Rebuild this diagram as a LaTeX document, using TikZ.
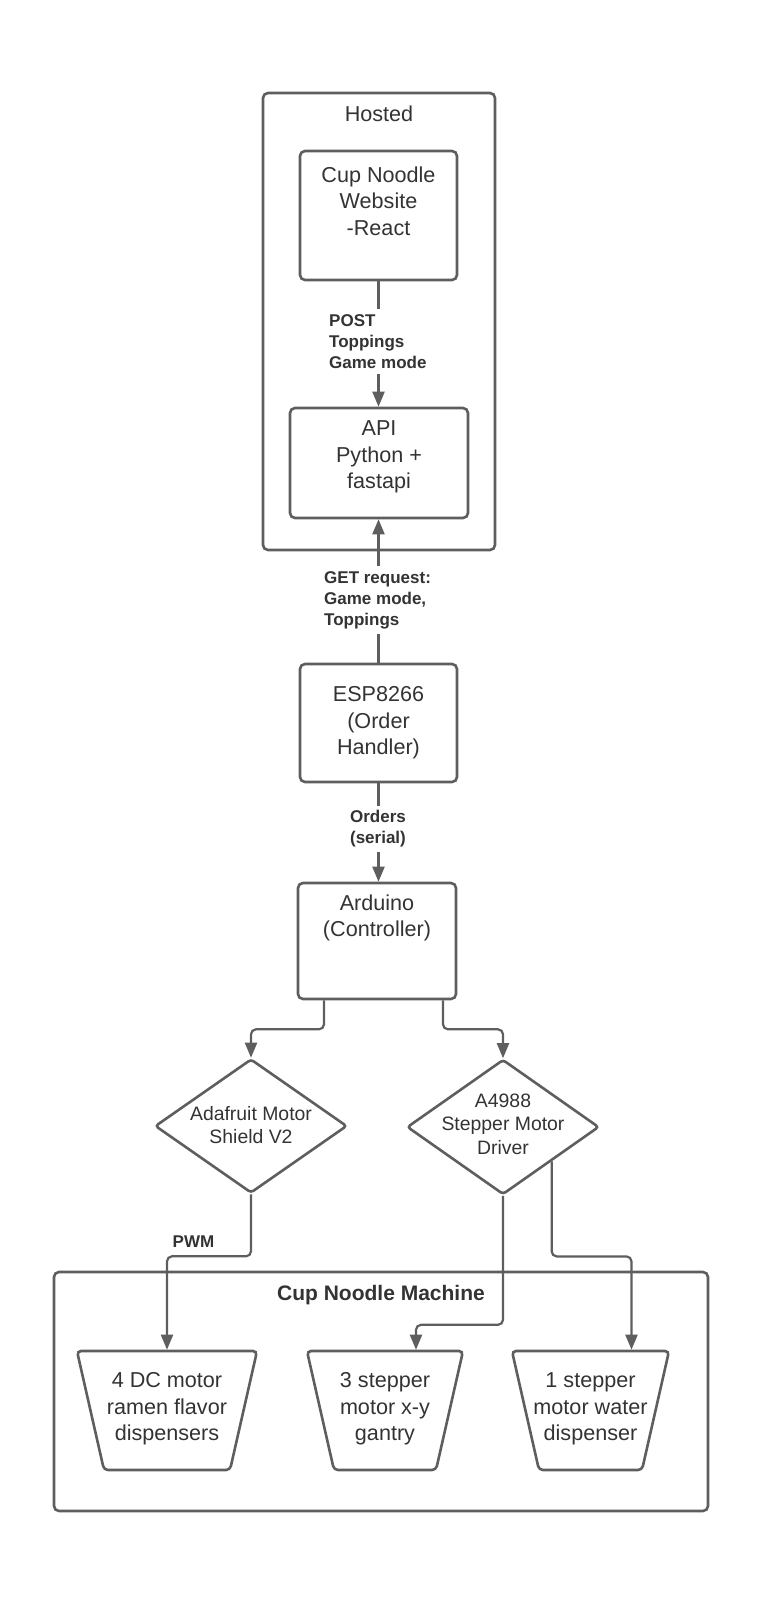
\documentclass[tikz,border=0pt]{standalone}
\usepackage{fontspec}
\setmainfont{Liberation Sans}
\usetikzlibrary{shapes.geometric}
\usetikzlibrary{arrows.meta}
\definecolor{lineclr}{HTML}{5E5E5E}
\definecolor{txtclr}{HTML}{333333}
\tikzset{
  blk/.style={draw=lineclr, line width=2.6pt, rounded corners=5pt, inner sep=0pt},
  dmd/.style={diamond, draw=lineclr, line width=2.6pt, rounded corners=3pt, inner sep=0pt},
  trap/.style={trapezium, shape border rotate=180, trapezium angle=77.2, draw=lineclr, line width=2.6pt, rounded corners=4pt, inner ysep=59.5pt},
  txt/.style={text=txtclr, align=center, font=\fontsize{21.6}{26.5}\selectfont, inner sep=0pt},
  dtxt/.style={txt, font=\fontsize{19.4}{23.5}\selectfont},
  lbl/.style={text=txtclr, font=\bfseries\fontsize{17}{21}\selectfont, fill=white, inner xsep=0pt, inner ysep=5pt},
  conn/.style={draw=lineclr, line width=2.2pt, rounded corners=5pt},
  arr/.style={conn, -{Triangle[width=12pt,length=15pt]}},
}

\begin{document}
\begin{tikzpicture}[x=1pt, y=-1pt]
        \useasboundingbox (0,0) rectangle (759,1600);

        % hosted
        \node[blk, minimum width=232pt, minimum height=457pt] (hosted) at (379,321.5) {};
        \node[txt] (hostedtxt) at (379,114) {Hosted};

        \node[blk, minimum width=157pt, minimum height=129pt] (web) at (378.5,215.5) {};
        \node[txt] (webtxt) at (378.5,201) {Cup Noodle\\Website\\-React};

        \node[blk, minimum width=178pt, minimum height=110pt] (api) at (379,463) {};
        \node[txt] (apitxt) at (379,457) {API\\Python +\\fastapi};

        % boards
        \node[blk, txt, minimum width=157pt, minimum height=118pt] (esp) at (378.5,723) {ESP8266\\(Order\\Handler)};

        \node[blk, minimum width=158pt, minimum height=116pt] (ard) at (377,941) {};
        \node[txt] (ardtxt) at (377,918) {Arduino\\(Controller)};

        \node[dmd, minimum width=192pt, minimum height=134pt] (ada) at (251,1126) {};
        \node[dtxt] (adatxt) at (251,1125) {Adafruit Motor\\Shield V2};

        \node[dmd, minimum width=192pt, minimum height=135pt] (drv) at (503,1127) {};
        \node[dtxt] (drvtxt) at (503,1124) {A4988\\Stepper Motor\\Driver};

        % machine
        \node[blk, minimum width=654pt, minimum height=239pt] (mach) at (381,1391.5) {};
        \node[txt, font=\bfseries\fontsize{21}{25}\selectfont] (machtxt) at (381,1295) {Cup Noodle Machine};

        \node[trap, inner xsep=63pt] (dcm) at (167,1410.5) {};
        \node[txt] (dcmtxt) at (167,1409) {4 DC motor\\ramen flavor\\dispensers};

        \node[trap, inner xsep=51pt] (gan) at (385,1410.5) {};
        \node[txt] (gantxt) at (385,1409) {3 stepper\\motor x-y\\gantry};

        \node[trap, inner xsep=51.5pt] (wat) at (590.5,1410.5) {};
        \node[txt] (wattxt) at (590.5,1409) {1 stepper\\motor water\\dispenser};

        % connectors
        \draw[arr] (web.south) -- (web.south |- api.north);
        \draw[arr] (esp.north) -- (esp.north |- api.south);
        \draw[arr] (esp.south) -- (esp.south |- ard.north);
        \draw[arr] ([xshift=-53pt]ard.south) -- ++(0,29) -| (ada.north);
        \draw[arr] ([xshift=66pt]ard.south) -- ++(0,29) -| (drv.north);
        \draw[arr] (ada.south) -- ++(0,62) -| (dcm.north);
        \draw[arr] (drv.south) -- ++(0,129) -| ([xshift=31pt]gan.north);
        \draw[arr] (drv.south east) -- ++(0,95) -| ([xshift=41pt]wat.north);

        % labels
        \node[lbl, align=left, anchor=west] (postlbl) at (329,341.5) {POST\\Toppings\\Game mode};
        \node[lbl, align=left, anchor=west] (getlbl) at (324,600) {GET request:\\Game mode,\\Toppings};
        \node[lbl, align=center] (ordlbl) at (378,829) {Orders\\(serial)};
        \node[lbl, fill=none] (pwmlbl) at (193.5,1242) {PWM};
\end{tikzpicture}
\end{document}
